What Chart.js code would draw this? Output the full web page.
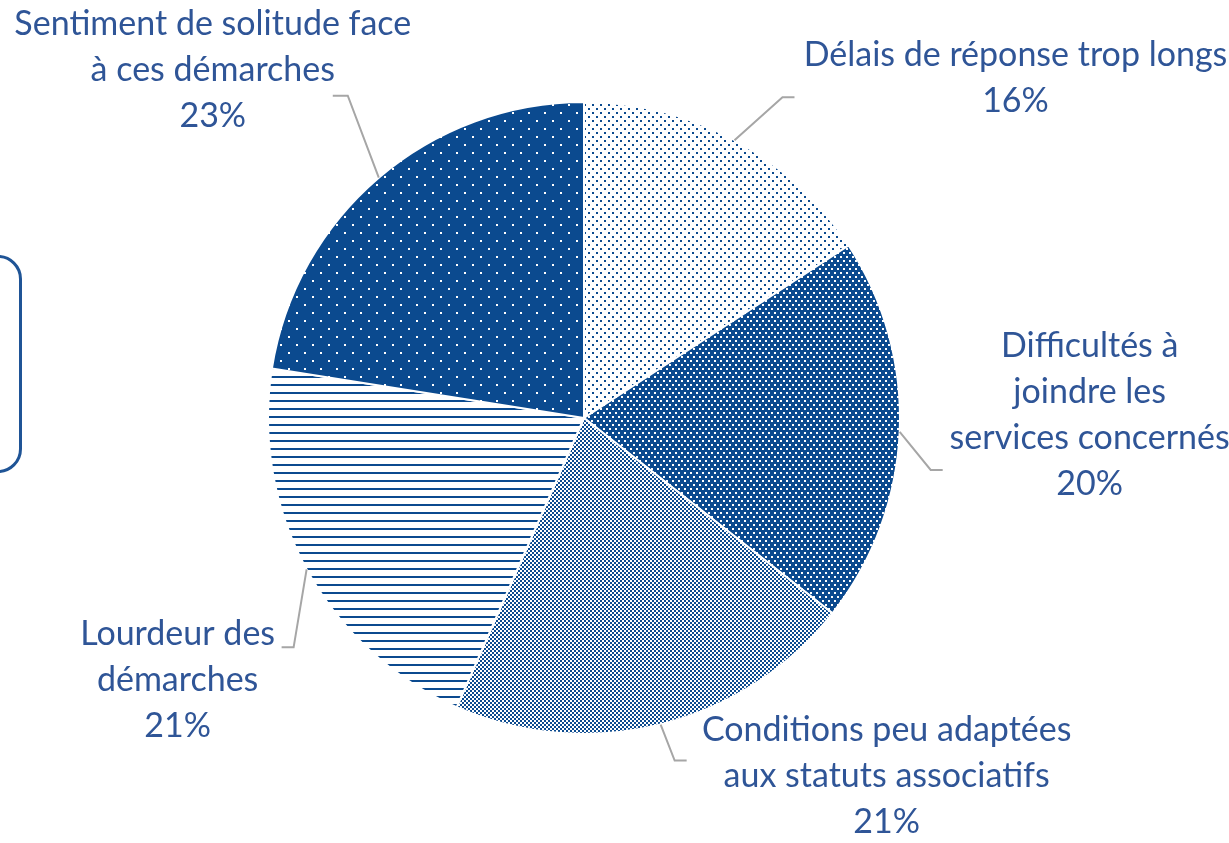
<!DOCTYPE html>
<html>
<head>
<meta charset="utf-8">
<script src="https://cdn.jsdelivr.net/npm/chart.js@4.4.0/dist/chart.umd.min.js"></script>
<style>
  body { margin:0; background:#fff; overflow:hidden; }
  #wrap { position:relative; width:1229px; height:843px; }
  #box { position:absolute; left:-200px; top:255px; width:216px; height:212px;
         border:3px solid #1F5496; border-radius:24px; }
</style>
</head>
<body>
<div id="wrap">
  <div id="box"></div>
  <canvas id="pie" width="1229" height="843"></canvas>
</div>
<script>
// data (clockwise from 12 o'clock)
var categories = [
  "Délais de réponse trop longs",
  "Difficultés à\njoindre les\nservices concernés",
  "Conditions peu adaptées\naux statuts associatifs",
  "Lourdeur des\ndémarches",
  "Sentiment de solitude face\nà ces démarches"
];
var shares = [15.8, 19.8, 21.0, 20.9, 22.5];
var percentLabels = ["16%", "20%", "21%", "21%", "23%"];

var BLUE = "#0B4A8F";
var TEXT = "#2F5597";

// little fill patterns like the Excel ones
function makePattern(w, h, bg, fg, rects){
  var c = document.createElement("canvas");
  c.width = w; c.height = h;
  var x = c.getContext("2d");
  x.fillStyle = bg; x.fillRect(0,0,w,h);
  x.fillStyle = fg;
  rects.forEach(function(r){ x.fillRect(r[0], r[1], r[2], r[3]); });
  return x.createPattern(c, "repeat");
}
var tmp = document.getElementById("pie").getContext("2d");
var fills = [
  makePattern(8, 8, "#ffffff", BLUE, [[0,0,2,2],[4,4,2,2]]),
  makePattern(6, 8, BLUE, "#ffffff", [[0,0,2,2],[3,4,2,2]]),
  makePattern(4, 4, "#ffffff", BLUE, [[0,0,2,2],[2,2,2,2]]),
  makePattern(8, 8, "#ffffff", BLUE, [[0,0,8,2]]),
  makePattern(16, 16, BLUE, "#ffffff", [[0,0,2,2],[8,8,2,2]])
];

// leader line layout: elbow offset from slice edge, tail, text block offset from tail end
var elbow = [[48,-43],[31,38],[14,36],[-13,78],[-31,-82]];
var tail = [12, 12, 12, -12, -15];
var textOff = [[221,-19],[147,-55],[200,15],[-104,33],[-120,-26]];
var lineH = 46;

var outsideLabels = {
  id: "outsideLabels",
  afterDraw: function(chart){
    var ctx = chart.ctx;
    var arcs = chart.getDatasetMeta(0).data;
    ctx.save();
    arcs.forEach(function(arc, i){
      var p = arc.getProps(["x","y","startAngle","endAngle","outerRadius"], true);
      var mid = (p.startAngle + p.endAngle) / 2;
      var sx = p.x + Math.cos(mid) * p.outerRadius;
      var sy = p.y + Math.sin(mid) * p.outerRadius;
      var ex = sx + elbow[i][0], ey = sy + elbow[i][1];
      var tx = ex + tail[i];
      ctx.strokeStyle = "#A6A6A6";
      ctx.lineWidth = 2;
      ctx.beginPath();
      ctx.moveTo(sx, sy); ctx.lineTo(ex, ey); ctx.lineTo(tx, ey);
      ctx.stroke();

      var lines = categories[i].split("\n").concat([percentLabels[i]]);
      var cx = tx + textOff[i][0];
      var cy = ey + textOff[i][1];
      var top = cy - (lines.length - 1) * lineH / 2;
      ctx.fillStyle = TEXT;
      ctx.font = "34px Lato";
      ctx.textAlign = "center";
      ctx.textBaseline = "middle";
      lines.forEach(function(l, k){ ctx.fillText(l, cx, top + k * lineH); });
    });
    ctx.restore();
  }
};

new Chart(document.getElementById("pie"), {
  type: "pie",
  data: {
    labels: categories,
    datasets: [{
      data: shares,
      backgroundColor: fills,
      borderColor: "#ffffff",
      borderWidth: 2
    }]
  },
  options: {
    responsive: false,
    animation: false,
    layout: { padding: { left: 267, right: 328, top: 101, bottom: 108 } },
    plugins: { legend: { display: false }, tooltip: { enabled: false } }
  },
  plugins: [outsideLabels]
});
</script>
</body>
</html>
